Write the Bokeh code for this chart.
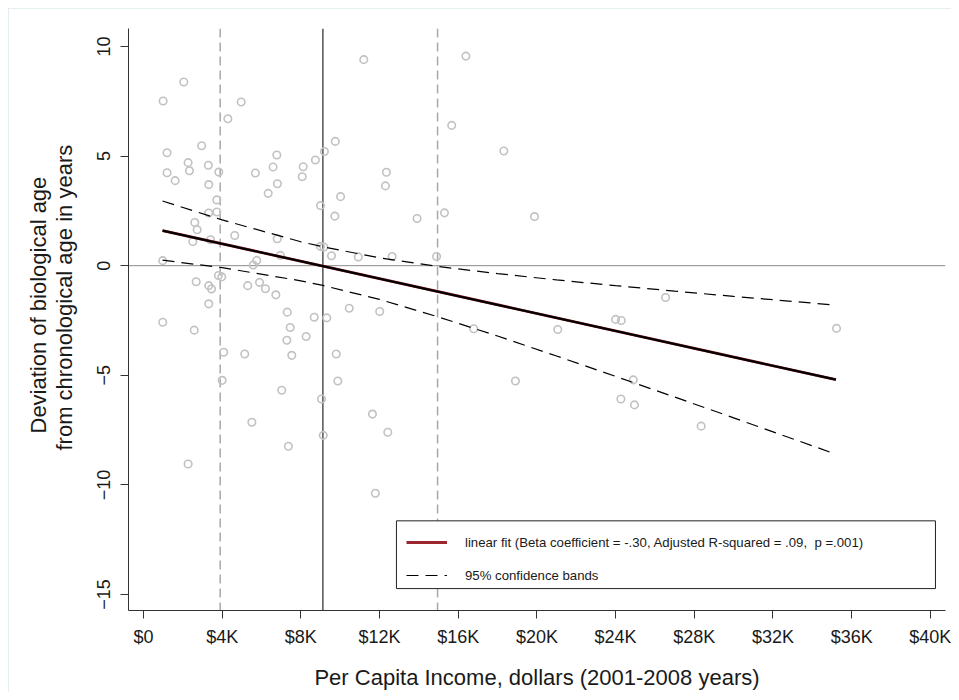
from bokeh.plotting import figure
from bokeh.models import (Range1d, FixedTicker, Span, BoxAnnotation, Legend, LegendItem,
                          ColumnDataSource, Title)
from bokeh.embed import file_html
from bokeh.resources import INLINE

# ---------------- data ----------------
# per-capita income, thousands of dollars
income_k = [
    2.05, 1.00, 4.97, 4.29, 1.20, 2.96, 2.27, 2.34, 3.30, 3.83,
    1.20, 1.61, 3.32, 5.69, 6.59, 6.78, 6.81, 6.34, 8.12, 8.07,
    8.74, 9.20, 9.75, 3.73, 9.00, 9.73, 3.32, 3.73, 2.61, 2.73,
    4.64, 6.80, 2.51, 3.41, 9.00, 9.17, 10.02, 9.56, 6.96, 5.76,
    5.58, 0.98, 3.81, 3.98, 2.68, 3.32, 3.46, 5.30, 5.90, 6.20,
    6.73, 3.32, 7.31, 8.68, 9.32, 0.98, 2.58, 7.46, 8.27, 7.29,
    4.08, 5.15, 7.54, 9.80, 4.00, 7.03, 9.88, 9.05, 5.51, 9.14,
    7.37, 2.27, 11.20, 16.39, 15.67, 18.32, 19.88, 12.35, 12.30, 13.91,
    15.30, 10.92, 12.64, 14.90, 10.46, 12.01, 16.79, 11.64, 12.42, 11.79,
    26.54, 24.00, 24.29, 21.06, 35.23, 24.90, 24.27, 24.96, 28.35, 18.91,
]
# deviation of biological age from chronological age, years
deviation = [
    8.38, 7.51, 7.47, 6.70, 5.15, 5.47, 4.70, 4.33, 4.58, 4.27,
    4.24, 3.88, 3.70, 4.23, 4.50, 5.05, 3.74, 3.30, 4.51, 4.06,
    4.82, 5.21, 5.67, 3.00, 2.74, 2.26, 2.40, 2.45, 1.97, 1.64,
    1.38, 1.23, 1.10, 1.18, 0.88, 0.85, 3.15, 0.45, 0.47, 0.24,
    0.03, 0.23, -0.45, -0.51, -0.73, -0.91, -1.06, -0.91, -0.76, -1.05,
    -1.33, -1.74, -2.12, -2.35, -2.38, -2.58, -2.94, -2.82, -3.23, -3.40,
    -3.95, -4.03, -4.09, -4.03, -5.23, -5.68, -5.26, -6.08, -7.14, -7.74,
    -8.24, -9.05, 9.40, 9.56, 6.40, 5.23, 2.24, 4.26, 3.64, 2.15,
    2.41, 0.40, 0.42, 0.42, -1.94, -2.09, -2.88, -6.77, -7.60, -10.38,
    -1.45, -2.45, -2.50, -2.91, -2.86, -5.21, -6.08, -6.35, -7.32, -5.26,
]

# linear fit line (end points)
fit_x_k = [0.97, 35.2]
fit_y = [1.60, -5.20]

# 95% confidence bands
band_x_k = [0.97, 4, 8, 9.12, 12, 15, 18, 21, 24, 27, 30, 35.2]
band_upper = [2.95, 2.09, 1.09, 0.86, 0.36, -0.04, -0.36, -0.65, -0.91, -1.16, -1.40, -1.80]
band_lower = [0.25, -0.09, -0.69, -0.90, -1.54, -2.34, -3.21, -4.12, -5.05, -5.99, -6.94, -8.60]

# reference vertical lines (income, thousands)
mean_income_k = 9.12
low_income_k = 3.90
high_income_k = 14.95

x_ticks_k = [0, 4, 8, 12, 16, 20, 24, 28, 32, 36, 40]
y_ticks = [-15, -10, -5, 0, 5, 10]

y_title_lines = ["Deviation of biological age", "from chronological age in years"]
x_title = "Per Capita Income, dollars (2001-2008 years)"

FONT = "Liberation Sans"

# ---------------- figure ----------------
p = figure(width=943, height=684, output_backend="svg", toolbar_location=None,
           x_range=Range1d(-760, 40770), y_range=Range1d(-15.73, 10.82),
           min_border_left=120, min_border_right=6, min_border_top=20, min_border_bottom=80)
p.styles = {"outline": "1px solid #dde9ec", "outline-offset": "-1px",
            "margin-left": "8px", "margin-top": "8px"}
p.xgrid.visible = False
p.ygrid.visible = False
p.outline_line_color = None
p.background_fill_color = "white"
p.border_fill_color = "white"

# reference lines
p.add_layout(Span(location=0, dimension="width", line_color="#8a8a8a", line_width=1, level="underlay"))
p.add_layout(Span(location=mean_income_k * 1000, dimension="height", line_color="#5e5e5e",
                  line_width=1.6, level="underlay"))
for xv in (low_income_k, high_income_k):
    p.add_layout(Span(location=xv * 1000, dimension="height", line_color="#a8a8a8",
                      line_width=1.5, line_dash="9 5", level="underlay"))

# scatter
src = ColumnDataSource(dict(x=[v * 1000 for v in income_k], y=deviation))
p.scatter("x", "y", source=src, marker="circle", size=7.5, fill_color=None,
          line_color="#c2c2c2", line_width=1.6)

# confidence bands
bx = [v * 1000 for v in band_x_k]
up_r = p.line(bx, band_upper, line_color="black", line_width=1.2, line_dash="12 7")
p.line(bx, band_lower, line_color="black", line_width=1.2, line_dash="12 7")

# fit line (maroon under black)
fx = [v * 1000 for v in fit_x_k]
fit_r = p.line(fx, fit_y, line_color="#9b2630", line_width=2.8)
p.line(fx, fit_y, line_color="black", line_width=2.2)

# axes
p.xaxis.ticker = FixedTicker(ticks=[t * 1000 for t in x_ticks_k])
p.xaxis.major_label_overrides = {t * 1000: ("$0" if t == 0 else "$%dK" % t) for t in x_ticks_k}
p.yaxis.ticker = FixedTicker(ticks=y_ticks)
p.yaxis.major_label_orientation = "vertical"

for ax in (p.xaxis[0], p.yaxis[0]):
    ax.axis_line_color = "#333333"
    ax.axis_line_width = 1
    ax.major_tick_line_color = "#333333"
    ax.major_tick_out = 8
    ax.major_tick_in = 0
    ax.minor_tick_line_color = None
    ax.major_label_text_font = FONT
    ax.major_label_text_font_size = "18px"
    ax.major_label_text_color = "#1a1a1a"
    ax.axis_label_text_font = FONT
    ax.axis_label_text_font_size = "22px"
    ax.axis_label_text_font_style = "normal"
    ax.axis_label_text_color = "#1a1a1a"

p.xaxis.axis_label = x_title
p.xaxis.major_label_standoff = 8
p.xaxis.axis_label_standoff = 15
p.yaxis.major_label_standoff = 10


# y-axis title: two lines on the left side (inner line first)
def make_title(txt, offset, standoff):
    kw = dict(text=txt, align="left", offset=offset, text_font=FONT, text_font_size="22px",
              text_font_style="normal", text_color="#1a1a1a")
    try:
        return Title(standoff=standoff, **kw)
    except Exception:
        return Title(standoff=0, **kw)


p.add_layout(make_title(y_title_lines[1], 160, 35), "left")
p.add_layout(make_title(y_title_lines[0], 177, -36), "left")

# legend box
p.add_layout(BoxAnnotation(left=12860, right=40260, top=-11.64, bottom=-14.73,
                           fill_color="white", fill_alpha=1, line_color="#222222",
                           line_width=1, line_alpha=1))
legend = Legend(items=[
    LegendItem(label="linear fit (Beta coefficient = -.30, Adjusted R-squared = .09,  p =.001)",
               renderers=[fit_r]),
    LegendItem(label="95% confidence bands", renderers=[up_r]),
], location=(278, 25), border_line_alpha=0, background_fill_alpha=0, padding=0,
    spacing=13, glyph_width=41, glyph_height=20, label_height=20, label_standoff=18,
    label_text_font=FONT, label_text_font_size="13.2px", label_text_color="#1a1a1a", margin=0)
p.add_layout(legend)

open("out.html", "w").write(file_html(p, INLINE))
